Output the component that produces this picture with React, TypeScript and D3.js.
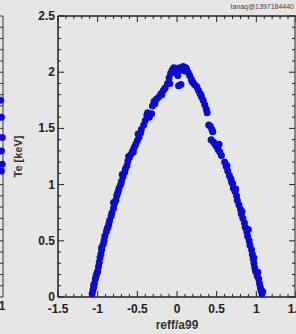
import React from "react";
import * as d3 from "d3";

// Te profile vs reff/a99 (left and right of the axis)
const rLeft = [-1.07, -1.06, -1.05, -1.04, -1.03, -1.02, -1.0, -0.99, -0.98, -0.97, -0.96, -0.95, -0.93, -0.92, -0.91, -0.89, -0.88, -0.86, -0.85, -0.83, -0.82, -0.8, -0.79, -0.77, -0.76, -0.74, -0.73, -0.71, -0.7, -0.68, -0.66, -0.65, -0.63, -0.62, -0.6, -0.58, -0.56, -0.54, -0.52, -0.5, -0.48, -0.46, -0.45, -0.42, -0.4, -0.38, -0.35, -0.32, -0.31, -0.29, -0.26, -0.23, -0.2, -0.17, -0.15, -0.12, -0.1, -0.08, -0.06, -0.04, -0.02, 0.0, 0.01];
const teLeft = [0.03, 0.06, 0.09, 0.12, 0.16, 0.19, 0.23, 0.27, 0.31, 0.35, 0.38, 0.42, 0.47, 0.5, 0.54, 0.58, 0.61, 0.65, 0.68, 0.72, 0.75, 0.79, 0.83, 0.86, 0.9, 0.94, 0.97, 1.0, 1.03, 1.07, 1.11, 1.14, 1.17, 1.21, 1.24, 1.27, 1.3, 1.33, 1.36, 1.39, 1.42, 1.46, 1.49, 1.53, 1.57, 1.62, 1.6, 1.63, 1.7, 1.74, 1.76, 1.78, 1.81, 1.84, 1.86, 1.9, 1.95, 1.99, 2.02, 2.04, 2.0, 2.03, 1.97];
const rRight = [0.03, 0.05, 0.06, 0.08, 0.1, 0.12, 0.14, 0.16, 0.18, 0.2, 0.22, 0.25, 0.27, 0.29, 0.31, 0.33, 0.35, 0.37, 0.38, 0.42, 0.44, 0.43, 0.46, 0.48, 0.5, 0.52, 0.54, 0.56, 0.6, 0.62, 0.64, 0.66, 0.68, 0.7, 0.71, 0.73, 0.75, 0.76, 0.78, 0.8, 0.81, 0.83, 0.85, 0.86, 0.88, 0.89, 0.91, 0.92, 0.94, 0.95, 0.96, 0.97, 0.98, 0.99, 1.01, 1.03, 1.04, 1.05, 1.06, 1.07];
const teRight = [2.04, 1.89, 2.02, 2.05, 2.01, 2.03, 2.0, 1.97, 1.94, 1.91, 1.89, 1.87, 1.84, 1.81, 1.78, 1.75, 1.71, 1.67, 1.64, 1.52, 1.49, 1.4, 1.38, 1.36, 1.34, 1.31, 1.29, 1.26, 1.2, 1.16, 1.12, 1.08, 1.05, 1.01, 0.97, 0.94, 0.9, 0.86, 0.82, 0.78, 0.74, 0.7, 0.66, 0.62, 0.58, 0.54, 0.5, 0.46, 0.42, 0.38, 0.34, 0.3, 0.26, 0.23, 0.19, 0.16, 0.12, 0.09, 0.06, 0.03];
// scattered points off the main curve
const rScatter = [-1.05, -1.01, -0.95, -0.87, -0.8, -0.75, -0.69, -0.61, -0.55, -0.49, -0.37, -0.28, -0.19, -0.09, 0.02, 0.11, 0.19, 0.3, 0.4, 0.45, 0.53, 0.63, 0.69, 0.74, 0.82, 0.9, 0.97, 1.02, 1.08];
const teScatter = [0.11, 0.21, 0.44, 0.62, 0.84, 0.92, 1.09, 1.25, 1.29, 1.45, 1.64, 1.72, 1.8, 1.9, 1.88, 2.04, 1.92, 1.8, 1.53, 1.47, 1.36, 1.17, 1.02, 0.96, 0.76, 0.6, 0.35, 0.22, 0.05];

// neighbour panel, only its right edge is visible
const rSide = [1.47, 1.48, 1.49, 1.48, 1.49, 1.48];
const teSide = [1.75, 1.6, 1.42, 1.3, 1.18, 1.12];

const xTicks = [-1.5, -1, -0.5, 0, 0.5, 1];
const yTicks = [0, 0.5, 1, 1.5, 2, 2.5];

const W = 296;
const H = 334;
const left = 58;
const right = 296;
const top = 16;
const bottom = 297;
const font = "'Liberation Sans', Arial, sans-serif";

export default function App() {
  const x = d3.scaleLinear().domain([-1.5, 1.5]).range([left, right]);
  const y = d3.scaleLinear().domain([0, 2.5]).range([bottom, top]);
  const xSide = d3.scaleLinear().domain([-1.5, 1.5]).range([-235, 3]);

  const minorX = d3.range(-15, 16).map(d => d / 10);
  const minorY = d3.range(0, 26).map(d => d / 10);
  const isMajor = (v: number) => Math.abs(v * 2 - Math.round(v * 2)) < 1e-6;

  const pts = [
    ...rLeft.map((r, i) => [r, teLeft[i]]),
    ...rRight.map((r, i) => [r, teRight[i]]),
    ...rScatter.map((r, i) => [r, teScatter[i]]),
  ];

  return (
    <svg width={W} height={H} style={{ position: "absolute", left: 0, top: 0 }}>
      <rect width={W} height={H} fill="#e6e6e6" />

      {/* side panel */}
      <line x1={xSide(1.5)} x2={xSide(1.5)} y1={top} y2={bottom} stroke="#333" strokeWidth={1} />
      {minorY.map(v => (
        <line key={"s" + v} x1={xSide(1.5)} x2={xSide(1.5) - (isMajor(v) ? 6 : 3)} y1={y(v)} y2={y(v)} stroke="#333" />
      ))}
      {rSide.map((r, i) => (
        <circle key={"sd" + i} cx={xSide(r)} cy={y(teSide[i])} r={3.5} fill="#0a0ad0" />
      ))}
      <text x={2} y={310} fontFamily={font} fontWeight="bold" fontSize={12} fill="#222" textAnchor="middle">1</text>

      {/* frame */}
      <line x1={left} x2={right} y1={top} y2={top} stroke="#222" strokeWidth={1.5} />
      <line x1={left} x2={right} y1={bottom} y2={bottom} stroke="#222" strokeWidth={1.5} />
      <line x1={left} x2={left} y1={top} y2={bottom} stroke="#222" strokeWidth={1.5} />
      <line x1={right - 1} x2={right - 1} y1={top} y2={bottom} stroke="#222" strokeWidth={1} />

      {minorX.map(v => {
        const L = isMajor(v) ? 6 : 3;
        return (
          <g key={"x" + v} stroke="#222">
            <line x1={x(v)} x2={x(v)} y1={bottom} y2={bottom - L} />
            <line x1={x(v)} x2={x(v)} y1={top} y2={top + L} />
          </g>
        );
      })}
      {minorY.map(v => {
        const L = isMajor(v) ? 6 : 3;
        return (
          <g key={"y" + v} stroke="#222">
            <line x1={left} x2={left + L} y1={y(v)} y2={y(v)} />
            <line x1={right - 1} x2={right - 1 - L} y1={y(v)} y2={y(v)} />
          </g>
        );
      })}

      {xTicks.map(v => (
        <text key={"xl" + v} x={x(v)} y={313} fontFamily={font} fontWeight="bold" fontSize={12} fill="#222" textAnchor="middle">
          {v}
        </text>
      ))}
      <text x={right} y={313} fontFamily={font} fontWeight="bold" fontSize={12} fill="#222" textAnchor="middle">1.5</text>
      {yTicks.map(v => (
        <text key={"yl" + v} x={left - 3} y={y(v) + 4} fontFamily={font} fontWeight="bold" fontSize={12} fill="#222" textAnchor="end">
          {v}
        </text>
      ))}

      <text x={x(0)} y={329} fontFamily={font} fontWeight="bold" fontSize={12} fill="#333" textAnchor="middle">reff/a99</text>
      <text transform={`translate(22,${y(1.25)}) rotate(-90)`} fontFamily={font} fontWeight="bold" fontSize={11} fill="#333" textAnchor="middle">Te [keV]</text>
      <text x={W - 2} y={9} fontFamily={font} fontSize={7} fill="#444" textAnchor="end">tanaq@1397184440</text>

      {pts.map((p, i) => (
        <circle key={"p" + i} cx={x(p[0])} cy={y(p[1])} r={3.5} fill="#0a0ad0" />
      ))}
    </svg>
  );
}
